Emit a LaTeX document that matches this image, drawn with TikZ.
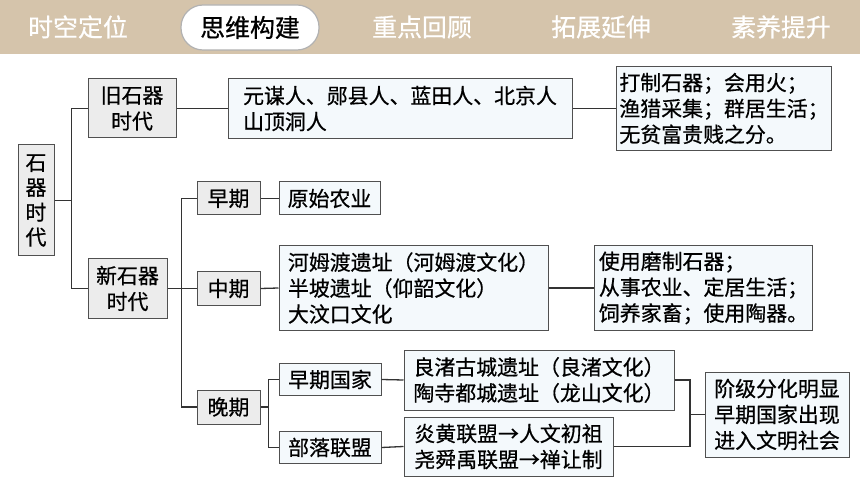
\documentclass[tikz,border=0pt]{standalone}
\usepackage{fontspec}
\newfontfamily\cjk[FakeBold=0.6]{Noto Sans CJK SC}
\definecolor{hdrtan}{RGB}{213,196,171}
\definecolor{lvlgray}{RGB}{236,236,236}
\definecolor{leafblue}{RGB}{244,249,252}
\definecolor{edgegray}{RGB}{80,80,80}

\begin{document}
\begin{tikzpicture}[x=1bp, y=-1bp,
    lvlbox/.style={draw=edgegray, line width=1bp, rectangle, fill=lvlgray, inner sep=3bp, align=center, font=\cjk\fontsize{21}{26}\selectfont},
    leafbox/.style={draw=edgegray, line width=1bp, rectangle, fill=leafblue, inner sep=3bp, align=left, font=\cjk\fontsize{21}{26}\selectfont},
    link/.style={draw=black!80, line width=1.3bp},
    tabtxt/.style={text=white, font=\cjk\fontsize{25}{28}\selectfont}]
    \useasboundingbox (0,0) rectangle (860,484);

    % Header tabs
    \fill[hdrtan] (0,0) rectangle (860,54);
    \node[tabtxt] (tab1) at (78,27) {时空定位};
    \node[draw=black!30, line width=1.2bp, fill=white, rounded corners=22bp, minimum width=138bp, minimum height=45bp, font=\cjk\fontsize{25}{28}\selectfont] (tab2) at (250,27.5) {思维构建};
    \node[tabtxt] (tab3) at (422,27) {重点回顾};
    \node[tabtxt] (tab4) at (601,27) {拓展延伸};
    \node[tabtxt] (tab5) at (781,27) {素养提升};

    % Root and two ages
    \node[lvlbox, minimum width=36bp, minimum height=111bp, font=\cjk\fontsize{21}{25}\selectfont] (sqsd) at (36,200.5) {石\\器\\时\\代};
    \node[lvlbox, minimum width=88bp, minimum height=59bp] (jiu) at (132,108.5) {旧石器\\时代};
    \node[lvlbox, minimum width=79bp, minimum height=59bp] (xin) at (127.5,288.5) {新石器\\时代};

    % Old stone age
    \node[leafbox, minimum width=344bp, minimum height=60bp] (ymr) at (400,108.5) {元谋人、郧县人、蓝田人、北京人\\山顶洞人};
    \node[leafbox, minimum width=214bp, minimum height=84bp] (dzsq) at (724,108.5) {打制石器；会用火；\\渔猎采集；群居生活；\\无贫富贵贱之分。};

    % New stone age: early and middle
    \node[lvlbox, minimum width=63bp, minimum height=33bp] (zaoqi) at (228.5,198.5) {早期};
    \node[leafbox, minimum width=101bp, minimum height=33bp] (ysny) at (329.5,198.5) {原始农业};
    \node[lvlbox, minimum width=63bp, minimum height=33bp] (zhongqi) at (228.5,288.5) {中期};
    \node[leafbox, minimum width=269bp, minimum height=85bp] (hmd) at (413.5,288) {河姆渡遗址（河姆渡文化）\\半坡遗址（仰韶文化）\\大汶口文化};
    \node[leafbox, minimum width=218bp, minimum height=84bp] (syzm) at (703.5,288) {使用磨制石器；\\从事农业、定居生活；\\饲养家畜；使用陶器。};

    % New stone age: late
    \node[lvlbox, minimum width=63bp, minimum height=34bp] (wanqi) at (228.5,407) {晚期};
    \node[leafbox, minimum width=102bp, minimum height=32bp] (zqgj) at (330,379.5) {早期国家};
    \node[leafbox, minimum width=102bp, minimum height=32bp] (blam) at (330,447.5) {部落联盟};
    \node[leafbox, minimum width=270bp, minimum height=60bp] (lz) at (539,380) {良渚古城遗址（良渚文化）\\陶寺都城遗址（龙山文化）};
    \node[leafbox, minimum width=209bp, minimum height=59bp] (yh) at (508.5,446.5) {炎黄联盟→人文初祖\\尧舜禹联盟→禅让制};
    \node[leafbox, minimum width=144bp, minimum height=85bp] (jj) at (777,414.5) {阶级分化明显\\早期国家出现\\进入文明社会};

    % Connections
    \draw[link] (sqsd.east) -- ++(17,0) coordinate (b1) |- (jiu.west);
    \draw[link] (b1) |- (xin.west);
    \draw[link] (jiu.east) -- (ymr.west);
    \draw[link] (ymr.east) -- (dzsq.west);

    \draw[link] (xin.east) -- ++(14,0) coordinate (b2);
    \draw[link] (zaoqi.west) -| (b2) |- (wanqi.west);
    \draw[link] (b2) -- (zhongqi.west);
    \draw[link] (zaoqi.east) -- (ysny.west);
    \draw[link] (zhongqi.east) -- (hmd.west);
    \draw[link] (hmd.east) -- (syzm.west);

    \draw[link] (wanqi.east) -- ++(8,0) coordinate (b3);
    \draw[link] (zqgj.west) -| (b3) |- (blam.west);
    \draw[link] (zqgj.east) -- (lz.west);
    \draw[link] (blam.east) -- (yh.west);

    \coordinate (b4) at (690,414.5);
    \draw[link] (lz.east) -| (b4) |- (yh.east);
    \draw[link] (b4) -- (jj.west);

\end{tikzpicture}
\end{document}
